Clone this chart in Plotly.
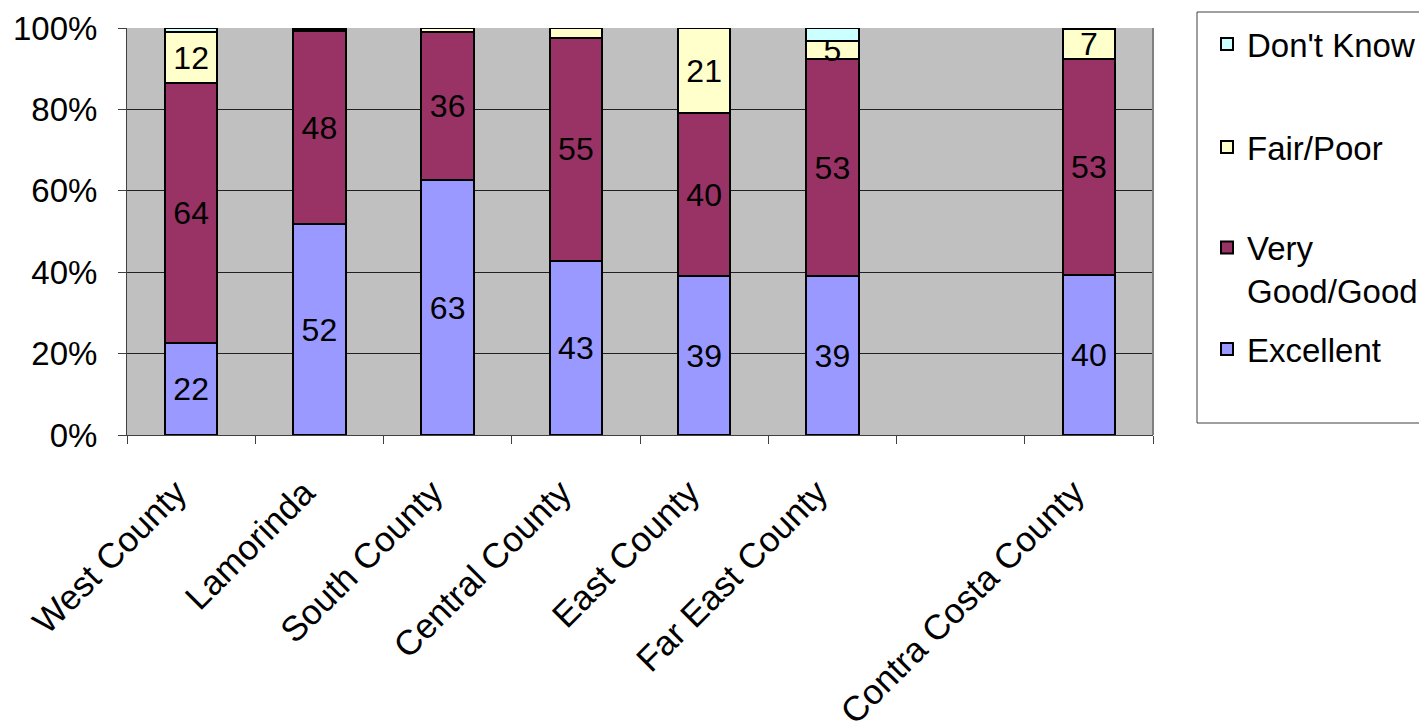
import plotly.graph_objects as go

categories = ["West County", "Lamorinda", "South County", "Central County",
              "East County", "Far East County", " ", "Contra Costa County"]
excellent = [22.6, 51.8, 62.6, 42.7, 39.0, 39.0, None, 39.4]
very_good = [64.0, 47.5, 36.3, 54.9, 40.0, 53.3, None, 52.9]
fair_poor = [12.3, 0.4, 1.1, 2.4, 21.0, 4.5, None, 7.4]
dont_know = [1.1, 0.3, 0.0, 0.0, 0.0, 3.2, None, 0.3]
excellent_lbl = ["22", "52", "63", "43", "39", "39", "", "40"]
very_good_lbl = ["64", "48", "36", "55", "40", "53", "", "53"]
fair_poor_lbl = ["12", "", "", "", "21", "5", "", "7"]
dont_know_lbl = ["", "", "", "", "", "", "", ""]

FONT = "Liberation Sans, Arial, sans-serif"
FS = 32
# figure is offset by the 8px page body margin
W, H = 1419, 714
L, R, T, B = 119, 274, 20, 287
PH = H - T - B
PW = W - L - R

series = [
    ("Excellent", excellent, excellent_lbl, "#9999FF", "legend4", 341),
    ("Very<br>Good/Good", very_good, very_good_lbl, "#993366", "legend3", 261),
    ("Fair/Poor", fair_poor, fair_poor_lbl, "#FFFFCC", "legend2", 139),
    ("Don't Know", dont_know, dont_know_lbl, "#CCFFFF", "legend", 36),
]

fig = go.Figure()
legends = {}
for name, vals, lbl, col, leg, ly in series:
    fig.add_trace(go.Bar(
        x=categories, y=vals, name=name, text=lbl,
        textposition="inside", insidetextanchor="middle",
        textangle=0, constraintext="none",
        textfont=dict(family=FONT, size=FS, color="black"),
        marker=dict(color=col, line=dict(color="black", width=2)),
        legend=leg,
    ))
    legends[leg] = dict(
        x=(1199 - L) / PW, y=(H - B - ly) / PH,
        xanchor="left", yanchor="middle",
        bgcolor="rgba(0,0,0,0)", borderwidth=0,
        font=dict(family=FONT, size=33, color="black"),
        valign="top",
    )

fig.update_layout(
    barmode="stack",
    barnorm="percent",
    bargap=0.59,
    width=W, height=H,
    margin=dict(l=L, r=R, t=T, b=B, autoexpand=False),
    plot_bgcolor="#C0C0C0",
    paper_bgcolor="white",
    font=dict(family=FONT, size=FS, color="black"),
    showlegend=True,
    **legends,
)
fig.update_xaxes(
    type="category", categoryorder="array", categoryarray=categories,
    tickangle=-45, ticks="outside", tickson="boundaries", ticklen=8,
    tickcolor="#404040", showline=True, linecolor="#404040", linewidth=1,
    showgrid=False, automargin=False, ticklabelstandoff=22,
    ticklabelshift=-15,
    tickfont=dict(family=FONT, size=35, color="black"),
)
fig.update_yaxes(
    range=[0, 100], tickvals=[0, 20, 40, 60, 80, 100],
    ticktext=["0%", "20%", "40%", "60%", "80%", "100%"],
    ticks="outside", ticklen=8, tickcolor="#404040",
    showline=True, linecolor="#404040", linewidth=1,
    showgrid=True, gridcolor="#202020", gridwidth=1,
    zeroline=False, automargin=False, ticklabelstandoff=14,
    tickfont=dict(family=FONT, size=33, color="black"),
)
fig.add_shape(type="line", xref="paper", yref="paper", x0=1, x1=1, y0=0, y1=1,
              line=dict(color="#808080", width=2))
# legend frame
fig.add_shape(type="rect", xref="paper", yref="paper",
              x0=(1189 - L) / PW, x1=(1440 - L) / PW,
              y0=(H - B - 415) / PH, y1=(H - B - 4) / PH,
              line=dict(color="#404040", width=1), fillcolor="rgba(0,0,0,0)")
fig.write_html("out.html")
